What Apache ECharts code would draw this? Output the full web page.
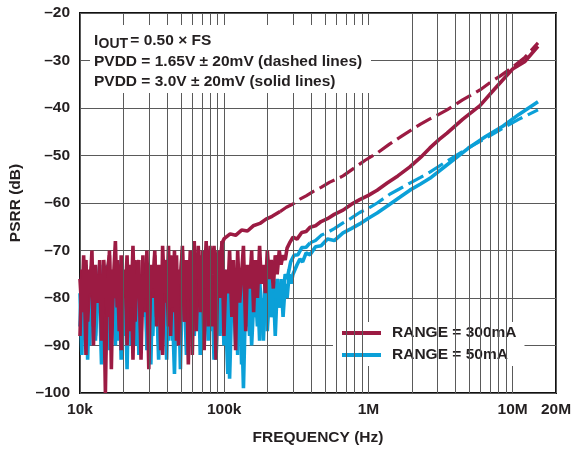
<!DOCTYPE html>
<html>
<head>
<meta charset="utf-8">
<script src="https://cdn.jsdelivr.net/npm/echarts/dist/echarts.min.js"></script>
<style>
  html, body { margin: 0; padding: 0; background: #fff; }
  #chart { width: 571px; height: 449px; }
</style>
</head>
<body>
<div id="chart"></div>
<script>
// Frequency grid (kHz) of the low-frequency, noise-dominated part of the sweep
const noiseFreqK = [
  10, 10.3, 10.6, 11, 11.3, 11.7, 12.1, 12.4, 12.8, 13.3,
  13.7, 14.1, 14.6, 15, 15.5, 16, 16.5, 17, 17.6, 18.1,
  18.7, 19.3, 19.9, 20.6, 21.2, 21.9, 22.6, 23.3, 24.1, 24.8,
  25.6, 26.5, 27.3, 28.2, 29.1, 30, 31, 32, 33, 34,
  35.1, 36.3, 37.4, 38.6, 39.9, 41.1, 42.5, 43.8, 45.2, 46.7,
  48.2, 49.7, 51.3, 53, 54.7, 56.4, 58.2, 60.1, 62, 64,
  66.1, 68.2, 70.4, 72.6, 75, 77.4, 79.8, 82.4, 85, 87.8,
  90.6, 93.5, 96.5, 99.6, 103, 106, 109, 113, 116, 120,
  124, 128, 132, 136, 141, 145, 150, 155, 160, 165,
  170, 176, 181, 187, 193, 199, 206, 212, 219, 226,
  233, 241, 248, 256, 265, 273, 282, 291, 300
];

// RANGE = 300mA, PVDD = 3.0V (solid)
const red300mA3V0Noise = [
  -88, -74, -79, -72, -85, -76, -73, -90, -75, -81,
  -72, -84, -78, -100, -74, -71, -86, -77, -68, -82,
  -73, -91, -76, -80, -71, -87, -74, -93, -72, -79,
  -75, -89, -71, -83, -76, -95, -73, -80, -70, -86,
  -74, -78, -92, -72, -81, -69, -88, -75, -83, -71,
  -90, -76, -70, -85, -73, -94, -72, -79, -68, -87,
  -74, -82, -70, -91, -73, -77, -69, -86, -75, -93,
  -71, -80, -68, -88, -74, -79, -70, -84, -72, -91,
  -70, -81, -75, -69, -87, -73, -78, -70, -83, -72,
  -80, -69, -77, -73, -79, -70, -76, -72, -78, -71,
  -75, -70, -73, -71, -72, -69.5
];
const red300mA3V0TailHz = [284e3, 300e3, 320e3, 345e3, 370e3, 394e3, 430e3, 470e3, 520e3, 580e3,
  667e3, 760e3, 870e3, 1e6, 1.15e6, 1.35e6, 1.6e6, 1.94e6, 2.3e6, 2.67e6,
  3.1e6, 3.51e6, 4.5e6, 5.94e6, 7.5e6, 10e6, 12.2e6, 15e6];
const red300mA3V0TailDb = [-68.4, -67.2, -67.6, -66.2, -66.0, -65.1, -64.8, -63.9, -63.3, -62.4,
  -61.5, -60.3, -59.3, -58.4, -57.3, -55.8, -54.3, -52.4, -50.4, -48.4,
  -46.6, -45.3, -42.4, -39.5, -36.0, -31.8, -30.2, -27.0];

// RANGE = 300mA, PVDD = 1.65V (dashed)
const red300mA1V65Noise = [
  -76, -83, -71, -92, -74, -79, -70, -86, -73, -81,
  -75, -89, -72, -77, -84, -70, -95, -74, -80, -72,
  -87, -71, -78, -74, -90, -73, -82, -69, -85, -76,
  -72, -93, -75, -80, -70, -88, -74, -78, -71, -84,
  -73, -91, -69, -79, -75, -86, -71, -82, -70, -89,
  -74, -77, -69, -85, -72, -80, -70, -92, -73, -76,
  -69, -83, -71, -78, -68, -86, -72, -75, -69, -80,
  -70, -73, -68.5
];
const red300mA1V65TailHz = [100e3, 110e3, 120e3, 132e3, 145e3, 159e3, 177e3, 195e3, 215e3, 244e3,
  270e3, 300e3, 335e3, 370e3, 413e3, 470e3, 540e3, 600e3, 667e3, 800e3,
  950e3, 1.15e6, 1.4e6, 1.65e6, 1.94e6, 2.3e6, 2.67e6, 3.1e6, 3.51e6, 4.5e6,
  5.94e6, 7e6, 8.18e6, 10e6, 12.2e6, 15e6];
const red300mA1V65TailDb = [-67.5, -66.5, -66.8, -65.7, -65.9, -64.8, -64.3, -63.4, -62.8, -61.8,
  -60.9, -60.2, -59.2, -58.5, -57.6, -56.7, -55.6, -55.0, -54.3, -52.6,
  -51.0, -49.5, -47.6, -46.2, -44.8, -43.4, -42.3, -41.3, -40.4, -38.3,
  -36.2, -34.6, -33.3, -31.4, -29.3, -26.3];

// RANGE = 50mA, PVDD = 3.0V (solid)
const blue50mA3V0Noise = [
  -79, -92, -74, -85, -77, -90, -73, -83, -88, -75,
  -81, -94, -76, -86, -73, -91, -78, -84, -74, -89,
  -77, -93, -75, -82, -87, -74, -90, -79, -85, -73,
  -92, -77, -84, -75, -88, -80, -94, -74, -83, -78,
  -90, -75, -86, -79, -93, -76, -82, -89, -74, -85,
  -78, -95, -76, -84, -80, -91, -75, -87, -79, -83,
  -74, -92, -78, -86, -76, -89, -81, -84, -75, -93,
  -79, -85, -77, -90, -82, -76, -97, -80, -85, -78,
  -92, -77, -84, -99, -79, -86, -76, -90, -81, -84,
  -77, -89, -80, -83, -76, -87, -79, -84, -77, -88,
  -78, -82, -76, -84, -77, -80, -75, -77, -75
];
const blue50mA3V0TailHz = [320e3, 335e3, 350e3, 370e3, 394e3, 430e3, 470e3, 520e3, 580e3, 667e3,
  760e3, 870e3, 1e6, 1.15e6, 1.4e6, 1.65e6, 1.94e6, 2.3e6, 2.67e6, 3.5e6,
  5.07e6, 6.5e6, 8.6e6, 11e6, 15e6];
const blue50mA3V0TailDb = [-73.0, -71.8, -72.4, -70.5, -70.9, -69.2, -69.0, -67.6, -67.9, -66.3,
  -65.4, -64.4, -63.2, -62.1, -60.3, -58.8, -57.3, -56.0, -54.8, -52.0,
  -48.2, -46.0, -43.8, -41.4, -38.7];

// RANGE = 50mA, PVDD = 1.65V (dashed)
const blue50mA1V65Noise = [
  -86, -75, -81, -73, -93, -77, -84, -74, -89, -78,
  -73, -87, -76, -92, -79, -74, -85, -77, -90, -75,
  -83, -72, -88, -78, -95, -74, -81, -86, -73, -90,
  -79, -76, -84, -73, -91, -77, -82, -88, -75, -80,
  -93, -74, -85, -78, -72, -89, -76, -83, -96, -75,
  -81, -87, -74, -79, -92, -77, -84, -73, -88, -78,
  -82, -75, -90, -79, -85, -74, -87, -77, -93, -80,
  -76, -88, -81, -74, -86, -96, -79, -84, -77, -90,
  -82, -78, -94, -76, -85, -80, -88, -77, -83, -79,
  -86, -76, -82, -89, -78, -81, -75, -84, -79, -80,
  -76, -82, -77, -79, -75, -76, -74
];
const blue50mA1V65TailHz = [289e3, 305e3, 325e3, 345e3, 370e3, 394e3, 430e3, 470e3, 520e3, 580e3,
  667e3, 760e3, 870e3, 1e6, 1.15e6, 1.4e6, 1.65e6, 1.94e6, 2.3e6, 2.67e6,
  3.5e6, 5.07e6, 6.5e6, 8.6e6, 11e6, 15e6];
const blue50mA1V65TailDb = [-72.4, -71.0, -70.9, -69.4, -69.3, -68.4, -67.9, -66.8, -66.2, -65.4,
  -64.2, -63.2, -62.0, -61.1, -60.0, -58.2, -57.0, -55.8, -54.6, -53.5,
  -51.2, -48.2, -46.4, -44.2, -42.4, -40.4];

// Axis ticks
const xTickLabels = { 10000: '10k', 100000: '100k', 1000000: '1M', 10000000: '10M', 20000000: '20M' };
const minorGridHz = [2e4, 3e4, 4e4, 5e4, 6e4, 7e4, 8e4, 9e4,
  2e5, 3e5, 4e5, 5e5, 6e5, 7e5, 8e5, 9e5,
  2e6, 3e6, 4e6, 5e6, 6e6, 7e6, 8e6, 9e6];

const RED = '#9c1b43';
const BLUE = '#0ba0d8';
const GRID = '#5a5a5a';
const INK = '#231f20';
const FONT = '"Liberation Sans", Arial, Helvetica, sans-serif';
const FS = 15.5;

function noisePairs(values) {
  return values.map((v, i) => [noiseFreqK[i] * 1000, v]);
}
function tailPairs(hz, db) {
  return hz.map((f, i) => [f, db[i]]);
}

const red3V0 = noisePairs(red300mA3V0Noise).concat(tailPairs(red300mA3V0TailHz, red300mA3V0TailDb));
const red1V65All = noisePairs(red300mA1V65Noise).concat(tailPairs(red300mA1V65TailHz, red300mA1V65TailDb));
const red1V65Rough = red1V65All.filter(p => p[0] <= 244e3);
const red1V65Dash = red1V65All.filter(p => p[0] >= 244e3);

const blue3V0 = noisePairs(blue50mA3V0Noise).concat(tailPairs(blue50mA3V0TailHz, blue50mA3V0TailDb));
const blue1V65All = noisePairs(blue50mA1V65Noise).concat(tailPairs(blue50mA1V65TailHz, blue50mA1V65TailDb));
const blue1V65Rough = blue1V65All.filter(p => p[0] <= 394e3);
const blue1V65Dash = blue1V65All.filter(p => p[0] >= 394e3);

function lineSeries(name, data, color, dashed, width) {
  return {
    name: name,
    type: 'line',
    data: data,
    showSymbol: false,
    symbol: 'none',
    z: 2,
    silent: true,
    lineStyle: { color: color, width: width, type: dashed ? [17, 6] : 'solid' },
    itemStyle: { color: color }
  };
}

const chart = echarts.init(document.getElementById('chart'), null, { renderer: 'canvas' });

chart.setOption({
  animation: false,
  textStyle: { fontFamily: FONT },
  grid: {
    left: 80, top: 13, right: 15, bottom: 56,
    outerBoundsMode: 'none',
    containLabel: false,
    show: true, borderColor: '#111', borderWidth: 2, backgroundColor: '#fff'
  },
  xAxis: {
    type: 'log',
    logBase: 10,
    min: 1e4,
    max: 2e7,
    name: 'FREQUENCY (Hz)',
    nameLocation: 'middle',
    nameGap: 37,
    nameTextStyle: { fontFamily: FONT, fontWeight: 'bold', fontSize: FS, color: INK },
    axisLine: { show: false },
    axisTick: { show: false },
    splitLine: { show: true, lineStyle: { color: GRID, width: 1 } },
    axisLabel: {
      margin: 9,
      fontFamily: FONT, fontWeight: 'bold', fontSize: FS, color: INK,
      formatter: v => xTickLabels[Math.round(v)] || ''
    }
  },
  yAxis: {
    type: 'value',
    min: -100,
    max: -20,
    interval: 10,
    name: 'PSRR (dB)',
    nameLocation: 'middle',
    nameGap: 56,
    nameTextStyle: { fontFamily: FONT, fontWeight: 'bold', fontSize: FS, color: INK },
    axisLine: { show: false },
    axisTick: { show: false },
    splitLine: { show: true, lineStyle: { color: GRID, width: 1 } },
    axisLabel: {
      margin: 10,
      fontFamily: FONT, fontWeight: 'bold', fontSize: FS, color: INK,
      formatter: v => (v < 0 ? '\u2013' : '') + Math.abs(v)
    }
  },
  legend: {
    data: ['RANGE = 300mA', 'RANGE = 50mA'],
    orient: 'vertical',
    left: 333,
    top: 322,
    padding: [3, 8, 3, 9],
    itemWidth: 39,
    itemHeight: 4,
    itemGap: 6,
    icon: 'rect',
    selectedMode: false,
    backgroundColor: '#fff',
    textStyle: { fontFamily: FONT, fontWeight: 'bold', fontSize: FS, lineHeight: 16, color: INK, padding: [0, 0, 0, 6] }
  },
  graphic: [
    { type: 'rect', z: 10, silent: true, shape: { x: 90, y: 25, width: 281, height: 68 }, style: { fill: '#fff' } },
    { type: 'text', z: 11, silent: true, x: 94, y: 41,
      style: { text: 'I', fill: INK, font: 'bold ' + FS + 'px ' + FONT, verticalAlign: 'middle' } },
    { type: 'text', z: 11, silent: true, x: 98.5, y: 44.5,
      style: { text: 'OUT', fill: INK, font: 'bold 14px ' + FONT, verticalAlign: 'middle' } },
    { type: 'text', z: 11, silent: true, x: 126, y: 41,
      style: { text: ' = 0.50 \u00d7 FS', fill: INK, font: 'bold ' + FS + 'px ' + FONT, verticalAlign: 'middle' } },
    { type: 'text', z: 11, silent: true, x: 94, y: 62,
      style: { text: 'PVDD = 1.65V \u00b1 20mV (dashed lines)', fill: INK, font: 'bold ' + FS + 'px ' + FONT, verticalAlign: 'middle' } },
    { type: 'text', z: 11, silent: true, x: 94, y: 82,
      style: { text: 'PVDD = 3.0V \u00b1 20mV (solid lines)', fill: INK, font: 'bold ' + FS + 'px ' + FONT, verticalAlign: 'middle' } }
  ],
  series: [
    {
      name: 'minor grid',
      type: 'line',
      data: [],
      z: 1,
      silent: true,
      markLine: {
        silent: true,
        symbol: ['none', 'none'],
        label: { show: false },
        lineStyle: { color: GRID, width: 1, type: 'solid' },
        data: minorGridHz.map(f => ({ xAxis: f }))
      }
    },
    lineSeries('RANGE = 50mA', blue3V0, BLUE, false, 3.6),
    lineSeries('50mA 1.65V', blue1V65Rough, BLUE, false, 3.6),
    lineSeries('50mA 1.65V dashed', blue1V65Dash, BLUE, true, 3.2),
    lineSeries('RANGE = 300mA', red3V0, RED, false, 3.6),
    lineSeries('300mA 1.65V', red1V65Rough, RED, false, 3.6),
    lineSeries('300mA 1.65V dashed', red1V65Dash, RED, true, 3.2)
  ]
});
</script>
</body>
</html>
